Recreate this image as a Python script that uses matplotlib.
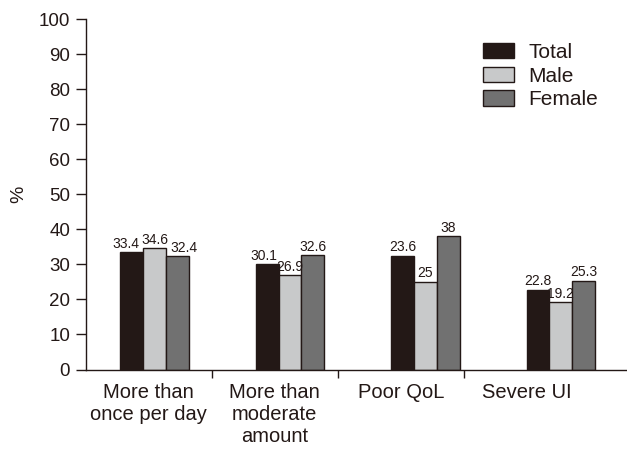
import matplotlib
matplotlib.use("Agg")
import matplotlib.pyplot as plt
from matplotlib.patches import Patch

categories = ["More than\nonce per day", "More than\nmoderate\namount", "Poor QoL", "Severe UI"]
series_names = ["Total", "Male", "Female"]
total_vals = [33.4, 30.1, 32.5, 22.8]
male_vals = [34.6, 26.9, 25.0, 19.2]
female_vals = [32.4, 32.6, 38.0, 25.3]
total_labels = ["33.4", "30.1", "23.6", "22.8"]
male_labels = ["34.6", "26.9", "25", "19.2"]
female_labels = ["32.4", "32.6", "38", "25.3"]
yticks = [0, 10, 20, 30, 40, 50, 60, 70, 80, 90, 100]

colors = ["#231816", "#c8c9ca", "#717171"]
edge = "#231816"
plt.rcParams['font.family'] = ['Liberation Sans', 'DejaVu Sans']

fig = plt.figure(figsize=(6.27, 4.55), dpi=100)
ax = fig.add_axes([85.5 / 627, 1 - 369.5 / 455, 1 - 85.5 / 627, (369.5 - 19) / 455])

width = 0.18
group_start = 0.047
group_step = 1.073
# horizontal label nudges (points) per series, per group
label_dx = [[-4.5, -2.5, 0, 0], [0, 0, 0, 0], [4.5, 0, 0, 0]]
series = [(total_vals, total_labels), (male_vals, male_labels), (female_vals, female_labels)]
for s, (vals, labs) in enumerate(series):
    xs = [group_start + group_step * i + (s - 1) * width for i in range(len(vals))]
    ax.bar(xs, vals, width=width, color=colors[s], edgecolor=edge, linewidth=1.0, zorder=2)
    for i, (x, v, l) in enumerate(zip(xs, vals, labs)):
        ax.annotate(l, (x, v), xytext=(label_dx[s][i], 1), textcoords="offset points",
                    ha="center", va="bottom", fontsize=10, color="#231816")

ax.set_xlim(-0.5, 3.79)
ax.set_ylim(0, 100)
ax.set_yticks(yticks)
ax.set_xticks(range(len(categories)))
ax.set_xticklabels(categories, fontsize=14.5, linespacing=1.2, color="#231816")
ax.tick_params(axis="x", which="major", length=0, pad=10)
ax.set_xticks([0.5, 1.5, 2.5], minor=True)
ax.tick_params(axis="x", which="minor", length=6, width=1, color=edge, direction="out")
ax.tick_params(axis="y", length=7, width=1, color=edge, labelsize=13.5, labelcolor="#231816", pad=4)

for sp in ["top", "right"]:
    ax.spines[sp].set_visible(False)
for sp in ["left", "bottom"]:
    ax.spines[sp].set_color(edge)
    ax.spines[sp].set_linewidth(1)

ax.set_ylabel("%", fontsize=14, color="#231816", labelpad=8)

handles = [Patch(facecolor=colors[i], edgecolor=edge, linewidth=1, label=series_names[i]) for i in range(3)]
ax.legend(handles=handles, loc="upper left", bbox_to_anchor=(0.70, 0.985), frameon=False,
          fontsize=15, handlelength=1.45, handleheight=0.75, handletextpad=0.7, labelspacing=0.22,
          labelcolor="#231816")

fig.savefig("out.png", dpi=100)
